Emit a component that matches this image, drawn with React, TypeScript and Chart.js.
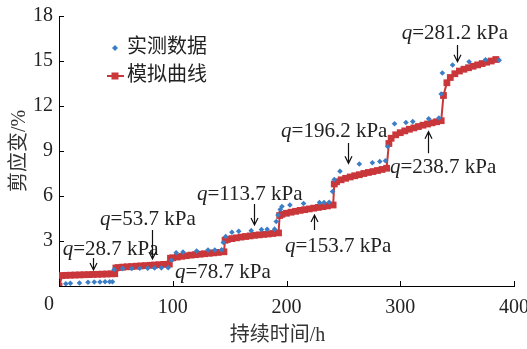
import React, { useEffect, useRef } from 'react';
import { Chart, registerables } from 'chart.js';

Chart.register(...registerables);

// ---- Data ----
const modelTime = [
  0, 3, 6, 10, 14, 18, 22, 26, 30, 34, 38, 42, 46, 49,
  50, 52, 56, 60, 64, 68, 72, 76, 80, 84, 88, 92, 97,
  98, 100, 104, 108, 112, 116, 120, 124, 128, 132, 136, 140, 145,
  146, 148, 152, 156, 160, 164, 168, 172, 176, 180, 184, 188, 193,
  194, 196, 200, 204, 208, 212, 216, 220, 224, 228, 232, 236, 241,
  242, 244, 248, 252, 256, 260, 264, 268, 272, 276, 280, 284, 288,
  290, 292, 296, 300, 304, 308, 312, 316, 320, 324, 328, 332, 336,
  338, 341, 344, 348, 352, 356, 360, 364, 368, 372, 376, 380, 384,
];
const modelStrain = [
  0, 0.7, 0.71, 0.72, 0.73, 0.74, 0.75, 0.76, 0.77, 0.78, 0.79, 0.8, 0.81, 0.82,
  1.2, 1.23, 1.26, 1.28, 1.3, 1.32, 1.34, 1.36, 1.38, 1.4, 1.42, 1.44, 1.46,
  1.85, 1.88, 1.93, 1.98, 2.02, 2.06, 2.09, 2.12, 2.15, 2.18, 2.21, 2.24, 2.28,
  3.05, 3.1, 3.16, 3.21, 3.26, 3.3, 3.34, 3.38, 3.41, 3.44, 3.47, 3.5, 3.54,
  4.7, 4.78, 4.85, 4.92, 4.98, 5.04, 5.09, 5.14, 5.19, 5.24, 5.29, 5.34, 5.4,
  6.8, 6.95, 7.08, 7.18, 7.27, 7.35, 7.42, 7.5, 7.57, 7.63, 7.7, 7.77, 7.85,
  9.5, 9.85, 10.08, 10.22, 10.34, 10.45, 10.54, 10.63, 10.72, 10.8, 10.88, 10.95, 11.02,
  12.7, 13.55, 13.9, 14.15, 14.33, 14.45, 14.55, 14.65, 14.74, 14.83, 14.92, 15.0, 15.1,
];

const measuredTime = [
  6, 10, 18, 25.5, 31, 36, 40.5, 44.5, 47,
  48.5, 56, 64, 71, 78, 84, 90, 96,
  99, 103, 109, 121, 131, 137, 143,
  144.5, 146.5, 152, 158, 169, 178, 183, 189.5,
  191, 192.5, 194.5, 196, 203, 215, 229, 233, 237.5,
  240.5, 242, 247, 264, 275.5, 282, 287,
  289, 295, 305, 311, 325, 334,
  336, 337, 346, 360.5, 375, 387,
];
const measuredStrain = [
  0.15, 0.18, 0.2, 0.25, 0.27, 0.27, 0.28, 0.28, 0.28,
  1.1, 1.16, 1.17, 1.18, 1.19, 1.2, 1.21, 1.22,
  1.72, 2.22, 2.26, 2.33, 2.4, 2.4, 2.41,
  2.9, 3.3, 3.58, 3.65, 3.69, 3.76, 3.78, 3.79,
  4.3, 4.73, 5.1, 5.3, 5.4, 5.5, 5.56, 5.57, 5.58,
  6.3, 7.1, 7.65, 8.13, 8.22, 8.3, 8.35,
  9.3, 10.82, 10.9, 10.96, 11.15, 11.2,
  12.8, 14.2, 14.73, 14.95, 15.08, 15.05,
];

const xTickValues = [0, 100, 200, 300, 400];
const yTickValues = [0, 3, 6, 9, 12, 15, 18];

const seriesNames = ['实测数据', '模拟曲线'];
const xTitle = '持续时间/h';
const yTitle = '剪应变/%';

const loadValues = ['28.7', '53.7', '78.7', '113.7', '153.7', '196.2', '238.7', '281.2'];
// label anchor (hours, strain) of the text baseline-left
const labelTime = [3.3, 36.0, 102.0, 121.3, 198.7, 195.2, 291.0, 301.3];
const labelStrain = [2.07, 4.07, 0.51, 5.73, 2.29, 9.91, 7.51, 16.47];
// arrows: time, start strain, tip strain (NaN = no arrow)
const arrowTime = [29.6, 81.5, NaN, 171.4, 224.2, 253.8, 324.7, 350.2];
const arrowFrom = [1.87, 3.73, NaN, 5.47, 3.73, 9.53, 8.85, 16.07];
const arrowTo = [1.07, 1.8, NaN, 4.07, 4.73, 8.18, 10.29, 14.95];

const BLUE = '#3b7ec6';
const RED = '#c9373b';
const TEXT = '#222222';
const FONT = "'Liberation Serif', 'Times New Roman', 'Noto Sans CJK SC', serif";

const overlayPlugin = {
  id: 'overlay',
  afterDraw(chart: any) {
    const ctx: CanvasRenderingContext2D = chart.ctx;
    const xs = chart.scales.x;
    const ys = chart.scales.y;
    const area = chart.chartArea;
    ctx.save();
    // inner tick marks
    ctx.strokeStyle = '#000';
    ctx.lineWidth = 1;
    ctx.beginPath();
    xTickValues.forEach((v) => {
      const px = Math.round(xs.getPixelForValue(v)) + 0.5;
      ctx.moveTo(px, area.bottom);
      ctx.lineTo(px, area.bottom - 5);
    });
    yTickValues.forEach((v) => {
      const py = Math.round(ys.getPixelForValue(v)) + 0.5;
      ctx.moveTo(area.left, py);
      ctx.lineTo(area.left + 5, py);
    });
    ctx.stroke();

    // origin label
    ctx.fillStyle = TEXT;
    ctx.font = `20px ${FONT}`;
    ctx.textAlign = 'center';
    ctx.textBaseline = 'middle';
    ctx.fillText('0', area.left - 10, area.bottom + 19);

    // x axis title (slightly left of centre, as in the source)
    ctx.fillStyle = '#333';
    ctx.font = `20px ${FONT}`;
    ctx.fillText(xTitle, (area.left + area.right) / 2 - 9, area.bottom + 50);

    // load labels
    ctx.fillStyle = TEXT;
    ctx.textAlign = 'left';
    ctx.textBaseline = 'alphabetic';
    loadValues.forEach((val, i) => {
      const x = xs.getPixelForValue(labelTime[i]);
      const y = ys.getPixelForValue(labelStrain[i]);
      ctx.font = `italic 21px ${FONT}`;
      ctx.fillText('q', x, y);
      const w = ctx.measureText('q').width;
      ctx.font = `21px ${FONT}`;
      ctx.fillText(`=${val} kPa`, x + w, y);
      if (!isNaN(arrowTime[i])) {
        const ax = Math.round(xs.getPixelForValue(arrowTime[i])) + 0.5;
        const y1 = ys.getPixelForValue(arrowFrom[i]);
        const y2 = ys.getPixelForValue(arrowTo[i]);
        const dir = y2 > y1 ? 1 : -1;
        ctx.strokeStyle = '#111';
        ctx.lineWidth = 1.2;
        ctx.beginPath();
        ctx.moveTo(ax, y1);
        ctx.lineTo(ax, y2);
        ctx.moveTo(ax - 3.5, y2 - dir * 7);
        ctx.lineTo(ax, y2);
        ctx.lineTo(ax + 3.5, y2 - dir * 7);
        ctx.stroke();
      }
    });

    // legend (inside plot)
    const lx = area.left + 56;
    ctx.font = `20px ${FONT}`;
    ctx.textBaseline = 'middle';
    ctx.fillStyle = BLUE;
    const d1y = 48;
    ctx.beginPath();
    ctx.moveTo(lx, d1y - 3);
    ctx.lineTo(lx + 3, d1y);
    ctx.lineTo(lx, d1y + 3);
    ctx.lineTo(lx - 3, d1y);
    ctx.closePath();
    ctx.fill();
    ctx.fillStyle = TEXT;
    ctx.fillText(seriesNames[0], lx + 12, d1y);
    const d2y = 76;
    ctx.strokeStyle = RED;
    ctx.lineWidth = 2;
    ctx.beginPath();
    ctx.moveTo(lx - 8, d2y);
    ctx.lineTo(lx + 9, d2y);
    ctx.stroke();
    ctx.fillStyle = RED;
    ctx.fillRect(lx - 3.5, d2y - 3.5, 7, 7);
    ctx.fillStyle = TEXT;
    ctx.fillText(seriesNames[1], lx + 12, d2y);
    ctx.restore();
  },
};

export default function App() {
  const ref = useRef<HTMLCanvasElement | null>(null);
  useEffect(() => {
    document.body.style.margin = '0';
    const canvas = ref.current;
    if (!canvas) return;
    const measured = measuredTime.map((t, i) => ({ x: t, y: measuredStrain[i] }));
    const model = modelTime.map((t, i) => ({ x: t, y: modelStrain[i] }));
    const chart = new Chart(canvas, {
      type: 'scatter',
      data: {
        datasets: [
          {
            label: seriesNames[1],
            data: model,
            showLine: true,
            borderColor: RED,
            backgroundColor: RED,
            borderWidth: 2,
            pointStyle: 'rect',
            pointRadius: 4.8,
            pointBorderWidth: 0,
            order: 2,
          },
          {
            label: seriesNames[0],
            data: measured,
            showLine: false,
            borderColor: BLUE,
            backgroundColor: BLUE,
            pointStyle: 'rectRot',
            pointRadius: 2.8,
            pointBorderWidth: 0,
            order: 1,
          },
        ],
      },
      options: {
        responsive: false,
        devicePixelRatio: 1,
        animation: false,
        layout: { padding: { top: 16, right: 13, left: 0, bottom: 0 } },
        plugins: { legend: { display: false }, tooltip: { enabled: false } },
        scales: {
          x: {
            type: 'linear',
            min: 0,
            max: 400,
            afterBuildTicks: (s: any) => {
              s.ticks = xTickValues.map((v) => ({ value: v }));
            },
            afterFit: (s: any) => {
              s.height = 63;
              s.paddingLeft = 0;
              s.paddingRight = 0;
            },
            grid: { display: false, drawTicks: false },
            border: { display: true, color: '#000', width: 1 },
            ticks: {
              padding: 10,
              color: TEXT,
              font: { family: FONT, size: 20 },
              maxRotation: 0,
              callback: (v: any) => (v === 0 ? '' : String(v)),
            },
            title: { display: false },
          },
          y: {
            type: 'linear',
            min: 0,
            max: 18,
            afterBuildTicks: (s: any) => {
              s.ticks = yTickValues.map((v) => ({ value: v }));
            },
            afterFit: (s: any) => {
              s.width = 59;
              s.paddingTop = 0;
              s.paddingBottom = 0;
            },
            grid: { display: false, drawTicks: false },
            border: { display: true, color: '#000', width: 1 },
            ticks: {
              padding: 6,
              color: TEXT,
              font: { family: FONT, size: 20 },
              callback: (v: any) => (v === 0 ? '' : String(v)),
            },
            title: {
              display: true,
              text: yTitle,
              color: '#333',
              font: { family: FONT, size: 20 },
              padding: { top: 8, bottom: 0 },
            },
          },
        },
      },
      plugins: [overlayPlugin],
    });
    return () => chart.destroy();
  }, []);
  return (
    <div style={{ width: 527, height: 349, background: '#fff' }}>
      <canvas ref={ref} width={527} height={349} />
    </div>
  );
}
